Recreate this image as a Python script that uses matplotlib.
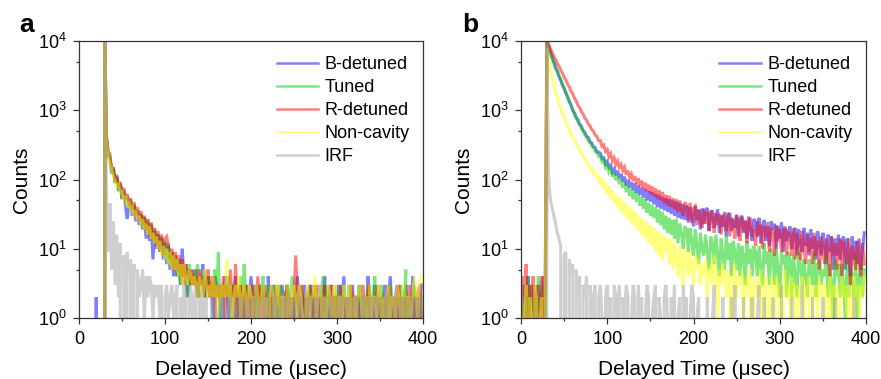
import numpy as np
import matplotlib
matplotlib.use("Agg")
import matplotlib.pyplot as plt
from matplotlib.ticker import FixedLocator, LogFormatterMathtext, MultipleLocator

plt.rcParams['font.family'] = ['Liberation Sans', 'DejaVu Sans']
plt.rcParams['mathtext.default'] = 'regular'

# ── Data: photon counts on a 2 µs channel grid ───────────────────────────────
time_us = np.arange(0, 400, 2)

labels = ["B-detuned", "Tuned", "R-detuned", "Non-cavity", "IRF"]
colors = ["#0000ff", "#00cc00", "#ff0000", "#ffff00", "#a0a0a0"]

# panel a
a_bdet = [0, 0, 0, 0, 0, 0, 0, 0, 0, 0, 2, 0, 0, 0, 0,
          10000,
          380, 230, 200, 125, 140, 90, 108, 68, 84, 52,
          70, 42, 27, 38, 48, 30, 42, 25, 36, 22,
          31, 19, 28, 14, 24, 13, 22, 7, 18, 10,
          16, 9, 14, 7, 12, 6, 11, 5, 9, 4,
          8, 4, 7, 3, 10, 4, 6, 2, 5, 3,
          4, 3, 5, 2, 4, 3, 6, 2, 3, 4,
          2, 3, 1, 4, 3, 2, 3, 0, 2, 4,
          3, 1, 2, 3, 2, 4, 1, 2, 3, 0,
          2, 3, 1, 2, 4, 2, 0, 3, 2, 1,
          3, 2, 2, 0, 4, 1, 2, 3, 1, 2,
          0, 2, 3, 2, 1, 3, 2, 0, 2, 1,
          2, 4, 1, 2, 0, 3, 2, 1, 2, 3,
          1, 2, 0, 2, 3, 1, 2, 4, 0, 2,
          3, 1, 2, 2, 0, 3, 1, 2, 4, 1,
          2, 0, 2, 3, 1, 2, 1, 3, 0, 2,
          2, 1, 4, 2, 0, 1, 3, 2, 1, 2,
          0, 2, 3, 1, 2, 4, 1, 0, 2, 3,
          1, 2, 0, 2, 3, 1, 2, 1, 4, 2,
          0, 2, 1, 3]
a_tuned = [0, 0, 0, 0, 0, 0, 0, 0, 0, 0, 0, 0, 0, 0, 0,
           10000,
           420, 220, 230, 120, 150, 88, 118, 70, 90, 55,
           68, 50, 58, 40, 52, 34, 44, 30, 36, 26,
           32, 21, 29, 18, 26, 16, 23, 13, 19, 11,
           16, 10, 15, 8, 13, 7, 12, 6, 9, 5,
           8, 4, 7, 3, 6, 4, 5, 2, 6, 3,
           5, 3, 4, 6, 2, 4, 3, 5, 2, 3,
           4, 2, 3, 5, 2, 9, 1, 3, 2, 3,
           2, 4, 1, 3, 2, 3, 0, 2, 4, 1,
           6, 2, 3, 1, 2, 0, 3, 2, 1, 3,
           2, 4, 1, 2, 3, 0, 2, 1, 3, 2,
           1, 3, 2, 0, 2, 3, 1, 2, 4, 2,
           0, 2, 1, 3, 2, 1, 0, 2, 3, 1,
           2, 3, 1, 2, 0, 2, 4, 1, 2, 3,
           1, 2, 0, 3, 2, 1, 2, 3, 0, 2,
           1, 3, 2, 2, 0, 2, 1, 3, 2, 1,
           2, 0, 3, 1, 2, 2, 4, 1, 0, 2,
           3, 1, 2, 0, 2, 3, 1, 2, 1, 2,
           0, 3, 2, 1, 5, 0, 2, 2, 1, 3,
           2, 1, 0, 2]
a_rdet = [0, 0, 0, 0, 0, 0, 0, 0, 0, 0, 0, 0, 0, 0, 0,
          10000,
          430, 260, 215, 150, 145, 100, 112, 78, 92, 62,
          76, 50, 62, 42, 54, 37, 47, 30, 40, 26,
          35, 22, 30, 19, 27, 15, 24, 14, 20, 11,
          18, 10, 16, 8, 14, 15, 11, 7, 10, 5,
          9, 5, 8, 4, 7, 3, 6, 4, 5, 3,
          5, 3, 4, 2, 5, 3, 4, 2, 3, 5,
          2, 3, 4, 1, 3, 2, 3, 2, 4, 1,
          3, 2, 5, 2, 1, 6, 2, 0, 3, 2,
          1, 3, 2, 0, 2, 3, 1, 2, 4, 2,
          0, 2, 3, 1, 2, 1, 3, 0, 2, 2,
          3, 1, 2, 0, 2, 3, 1, 2, 0, 2,
          8, 2, 1, 3, 2, 0, 2, 1, 3, 2,
          1, 2, 3, 0, 2, 1, 2, 3, 1, 0,
          2, 3, 1, 2, 2, 0, 3, 1, 2, 1,
          2, 0, 3, 2, 1, 2, 2, 1, 0, 3,
          1, 2, 2, 3, 0, 2, 1, 2, 3, 1,
          2, 0, 2, 1, 3, 2, 1, 2, 0, 2,
          3, 1, 2, 0, 2, 1, 3, 2, 1, 2,
          0, 2, 3, 1]
a_noncav = [0, 1, 0, 0, 0, 0, 0, 0, 0, 0, 0, 0, 0, 0, 0,
            10000,
            340, 240, 170, 140, 110, 95, 80, 85, 62, 70,
            50, 58, 40, 48, 36, 40, 30, 36, 26, 30,
            22, 27, 19, 23, 16, 21, 14, 17, 12, 15,
            10, 13, 8, 11, 7, 10, 6, 9, 5, 8,
            5, 7, 4, 6, 3, 6, 4, 3, 5, 4,
            3, 4, 3, 2, 4, 3, 2, 5, 3, 2,
            3, 2, 4, 2, 3, 1, 3, 2, 3, 2,
            7, 2, 3, 1, 2, 3, 2, 4, 1, 2,
            3, 2, 1, 3, 2, 2, 0, 3, 2, 1,
            2, 3, 1, 2, 0, 2, 3, 2, 1, 2,
            3, 1, 2, 2, 0, 3, 2, 1, 2, 3,
            2, 1, 3, 2, 1, 0, 2, 3, 1, 2,
            2, 4, 1, 2, 3, 2, 0, 2, 1, 3,
            2, 1, 2, 3, 0, 2, 2, 1, 3, 2,
            1, 2, 3, 0, 2, 1, 2, 3, 2, 1,
            2, 2, 0, 3, 1, 2, 2, 1, 3, 2,
            1, 2, 0, 2, 3, 1, 2, 2, 1, 3,
            2, 1, 2, 3, 0, 2, 2, 1, 2, 4,
            2, 1, 3, 4]
a_irf = [0, 0, 0, 0, 0, 0, 0, 0, 0, 0, 0, 0, 0, 0, 0,
         10000,
         60, 9, 45, 5, 25, 3, 16, 2, 12, 0,
         8, 1, 9, 0, 7, 1, 6, 0, 5, 2,
         3, 5, 1, 4, 2, 4, 3, 1, 3, 2,
         3, 1, 3, 0, 2, 3, 1, 2, 3, 1,
         2, 3, 0, 2, 1, 3, 2, 0, 2, 3,
         1, 2, 3, 0, 2, 1, 3, 1, 2, 0,
         0, 2, 1, 2, 1, 0, 2, 1, 2, 0,
         1, 2, 2, 0, 1, 2, 1, 0, 2, 1,
         2, 0, 1, 2, 1, 2, 0, 2, 1, 1,
         2, 0, 2, 1, 2, 1, 0, 2, 2, 1,
         0, 1, 2, 1, 2, 0, 2, 1, 1, 2,
         1, 0, 2, 2, 1, 0, 1, 2, 1, 2,
         0, 2, 1, 2, 0, 1, 2, 2, 1, 0,
         2, 1, 2, 0, 1, 2, 1, 2, 0, 2,
         1, 2, 0, 1, 2, 2, 1, 0, 2, 1,
         2, 0, 1, 2, 1, 2, 0, 2, 1, 2,
         1, 0, 2, 1, 2, 1, 0, 2, 2, 1,
         0, 2, 1, 2, 0, 1, 2, 1, 2, 0,
         2, 1, 0, 2]

# panel b
b_bdet = [2, 0, 3, 1, 4, 2, 0, 3, 2, 1, 3, 0, 2, 4, 1,
          10000,
          8250, 6850, 5650, 4900, 4100, 3650, 3050, 2750, 2300, 2080,
          1750, 1580, 1320, 1200, 990, 920, 780, 730, 620, 590,
          505, 480, 415, 405, 345, 338, 296, 290, 250, 248,
          240, 200, 205, 168, 182, 150, 160, 128, 142, 115,
          134, 104, 120, 94, 110, 82, 98, 76, 92, 70,
          88, 64, 82, 60, 76, 55, 72, 50, 68, 48,
          66, 44, 62, 40, 60, 38, 56, 36, 54, 34,
          52, 32, 50, 30, 48, 28, 46, 27, 44, 26,
          42, 24, 40, 29, 21, 41, 26, 36, 19, 38,
          23, 35, 39, 18, 31, 36, 20, 28, 37, 17,
          30, 21, 34, 15, 29, 33, 18, 27, 20, 31,
          15, 27, 30, 17, 25, 14, 29, 19, 13, 27,
          24, 15, 28, 12, 22, 26, 13, 21, 11, 25,
          19, 23, 10, 21, 14, 24, 9, 20, 13, 18,
          21, 10, 17, 20, 8, 19, 12, 9, 20, 11,
          17, 8, 19, 10, 15, 7, 18, 12, 8, 17,
          12, 6, 16, 9, 15, 5, 14, 8, 16, 7,
          13, 15, 5, 14, 8, 4, 15, 7, 13, 6,
          14, 5, 10, 17]
b_tuned = [3, 1, 0, 2, 4, 1, 3, 0, 2, 1, 4, 2, 0, 3, 1,
           10000,
           8600, 6950, 5950, 4950, 4350, 3650, 3250, 2700, 2430, 2050,
           1830, 1530, 1370, 1150, 1020, 860, 795, 680, 630, 545,
           510, 440, 420, 365, 348, 302, 292, 255, 245, 216,
           218, 180, 190, 150, 165, 128, 142, 110, 125, 98,
           112, 86, 100, 76, 90, 66, 80, 58, 72, 52,
           68, 48, 62, 42, 56, 38, 52, 33, 46, 30,
           43, 28, 40, 24, 37, 22, 34, 19, 30, 17,
           28, 16, 26, 14, 27, 12, 23, 17, 10, 21,
           19, 9, 20, 13, 8, 19, 11, 6, 17, 10,
           8, 16, 9, 5, 15, 12, 6, 16, 8, 4,
           14, 8, 5, 15, 7, 12, 4, 13, 9, 5,
           12, 4, 11, 8, 3, 13, 6, 10, 4, 11,
           9, 4, 11, 5, 3, 12, 6, 9, 3, 10,
           8, 3, 10, 5, 2, 9, 6, 8, 2, 9,
           7, 2, 8, 4, 2, 9, 6, 3, 7, 4,
           2, 7, 5, 3, 9, 2, 6, 7, 3, 5,
           4, 8, 2, 6, 3, 1, 7, 4, 6, 2,
           6, 3, 1, 7, 2, 5, 4, 2, 8, 1,
           4, 6, 2, 5]
b_rdet = [1, 4, 2, 6, 0, 3, 2, 4, 1, 3, 0, 2, 4, 1, 3,
          10000,
          9050, 7750, 6950, 6050, 5450, 4750, 4350, 3780, 3450, 2990,
          2740, 2370, 2180, 1880, 1720, 1490, 1370, 1180, 1100, 955,
          885, 770, 725, 632, 600, 525, 498, 440, 418, 365,
          365, 300, 315, 255, 270, 215, 236, 186, 206, 165,
          185, 150, 165, 134, 150, 118, 134, 106, 120, 96,
          112, 86, 104, 80, 96, 74, 90, 68, 84, 62,
          80, 58, 74, 52, 70, 50, 66, 46, 60, 42,
          58, 40, 54, 37, 52, 34, 50, 36, 30, 47,
          42, 26, 46, 24, 38, 41, 22, 37, 28, 20,
          38, 23, 34, 18, 36, 26, 17, 33, 22, 32,
          16, 31, 24, 18, 33, 15, 28, 23, 14, 30,
          24, 13, 29, 18, 26, 12, 23, 28, 15, 19,
          11, 25, 16, 22, 10, 21, 15, 24, 9, 20,
          17, 8, 22, 13, 19, 9, 16, 21, 8, 18,
          15, 8, 20, 7, 17, 12, 7, 18, 11, 6,
          16, 9, 14, 6, 17, 8, 13, 5, 15, 10,
          6, 14, 9, 4, 15, 8, 12, 5, 11, 14,
          4, 13, 9, 6, 14, 3, 11, 8, 5, 13,
          7, 4, 12, 6]
b_noncav = [2, 0, 1, 3, 0, 2, 1, 0, 3, 2, 0, 1, 2, 0, 2,
            8000,
            5100, 3900, 2850, 2350, 1750, 1540, 1220, 1090, 870, 800,
            660, 610, 505, 470, 395, 380, 318, 305, 262, 250,
            210, 206, 172, 170, 142, 146, 122, 126, 105, 108,
            84, 106, 72, 90, 62, 80, 52, 70, 46, 60,
            40, 56, 35, 49, 30, 45, 27, 40, 23, 36,
            21, 33, 18, 29, 16, 27, 14, 24, 12, 22,
            11, 20, 9, 18, 8, 17, 7, 15, 9, 14,
            6, 14, 5, 12, 8, 4, 11, 7, 3, 10,
            7, 4, 9, 6, 3, 8, 5, 7, 3, 6,
            4, 7, 2, 5, 6, 3, 8, 4, 1, 5,
            3, 6, 4, 2, 5, 3, 0, 4, 6, 2,
            4, 3, 5, 1, 3, 4, 2, 5, 0, 3,
            4, 2, 3, 5, 1, 3, 4, 0, 2, 4,
            3, 1, 4, 2, 3, 0, 3, 5, 2, 3,
            1, 4, 2, 3, 0, 3, 2, 4, 1, 3,
            2, 4, 0, 3, 2, 3, 1, 4, 2, 3,
            3, 0, 2, 4, 1, 3, 2, 3, 0, 2,
            4, 2, 3, 1, 3, 2, 0, 4, 2, 3,
            1, 3, 2, 4]
b_irf = [0, 0, 0, 0, 0, 0, 0, 0, 0, 0, 0, 0, 0, 0, 0,
         10000,
         110, 52, 40, 30, 24, 17, 14, 11, 0, 8,
         9, 0, 7, 4, 6, 0, 5, 2, 4, 0,
         3, 2, 4, 0, 3, 1, 2, 3, 0, 2,
         3, 1, 0, 2, 3, 1, 2, 0, 3, 2,
         1, 3, 0, 2, 1, 3, 2, 0, 1, 3,
         2, 0, 3, 1, 2, 0, 1, 3, 2, 0,
         1, 2, 3, 0, 2, 1, 0, 2, 3, 1,
         0, 2, 1, 3, 0, 1, 2, 0, 3, 1,
         2, 0, 1, 3, 2, 0, 1, 2, 0, 0,
         1, 0, 2, 0, 0, 1, 3, 0, 1, 0,
         0, 2, 0, 1, 0, 0, 2, 0, 3, 0,
         1, 0, 0, 2, 0, 1, 0, 0, 2, 0,
         0, 1, 3, 0, 0, 2, 0, 1, 0, 0,
         2, 0, 0, 1, 0, 3, 0, 0, 1, 0,
         0, 2, 0, 0, 1, 0, 0, 3, 0, 0,
         1, 0, 0, 2, 0, 0, 1, 0, 0, 2,
         0, 0, 1, 0, 0, 0, 2, 0, 0, 1,
         0, 0, 0, 1, 0, 0, 0, 2, 0, 0,
         0, 1, 0, 0]

panel_a = [a_bdet, a_tuned, a_rdet, a_noncav, a_irf]
panel_b = [b_bdet, b_tuned, b_rdet, b_noncav, b_irf]

# ── Figure ───────────────────────────────────────────────────────────────────
W, H = 881, 379
fig = plt.figure(figsize=(W / 100, H / 100), dpi=100)
fig.patch.set_facecolor("white")

ax_a = fig.add_axes([79 / W, 1 - 318 / H, 344 / W, 277 / H])
ax_b = fig.add_axes([521 / W, 1 - 318 / H, 345 / W, 277 / H])


def draw_panel(ax, series, letter, letter_x):
    for ys, c, lab in zip(series, colors, labels):
        ax.plot(time_us, ys, color=c, alpha=0.5, lw=2.2, label=lab,
                solid_joinstyle="miter")
    ax.set_yscale("log", nonpositive="clip")
    ax.set_xlim(0, 400)
    ax.set_ylim(1, 1e4)
    ax.xaxis.set_major_locator(MultipleLocator(100))
    ax.xaxis.set_minor_locator(MultipleLocator(50))
    ax.yaxis.set_major_locator(FixedLocator([1, 10, 100, 1000, 10000]))
    ax.yaxis.set_minor_locator(FixedLocator([5, 50, 500, 5000]))
    ax.yaxis.set_major_formatter(LogFormatterMathtext())
    ax.tick_params(which="both", direction="out", labelsize=13,
                   color="#333333", width=0.9, pad=5)
    ax.tick_params(which="major", length=4)
    ax.tick_params(which="minor", length=2.5, labelleft=False)
    for sp in ax.spines.values():
        sp.set_color("#333333")
        sp.set_linewidth(0.9)
    ax.set_xlabel("Delayed Time (\u03bcsec)", fontsize=15, labelpad=9)
    ax.set_ylabel("Counts", fontsize=15, labelpad=5)

    leg = ax.legend(loc="upper left", bbox_to_anchor=(0.575, 0.945),
                    frameon=False, fontsize=13, handlelength=2.3,
                    handletextpad=0.35, labelspacing=0.33,
                    borderpad=0, borderaxespad=0)
    for h in leg.get_lines():
        h.set_linewidth(1.8)

    fig.text(letter_x / W, 1 - 32 / H, letter, fontsize=19,
             fontweight="bold", ha="center", va="baseline")


draw_panel(ax_a, panel_a, "a", 27)
draw_panel(ax_b, panel_b, "b", 470)

fig.savefig("out.png", dpi=100, facecolor="white")
